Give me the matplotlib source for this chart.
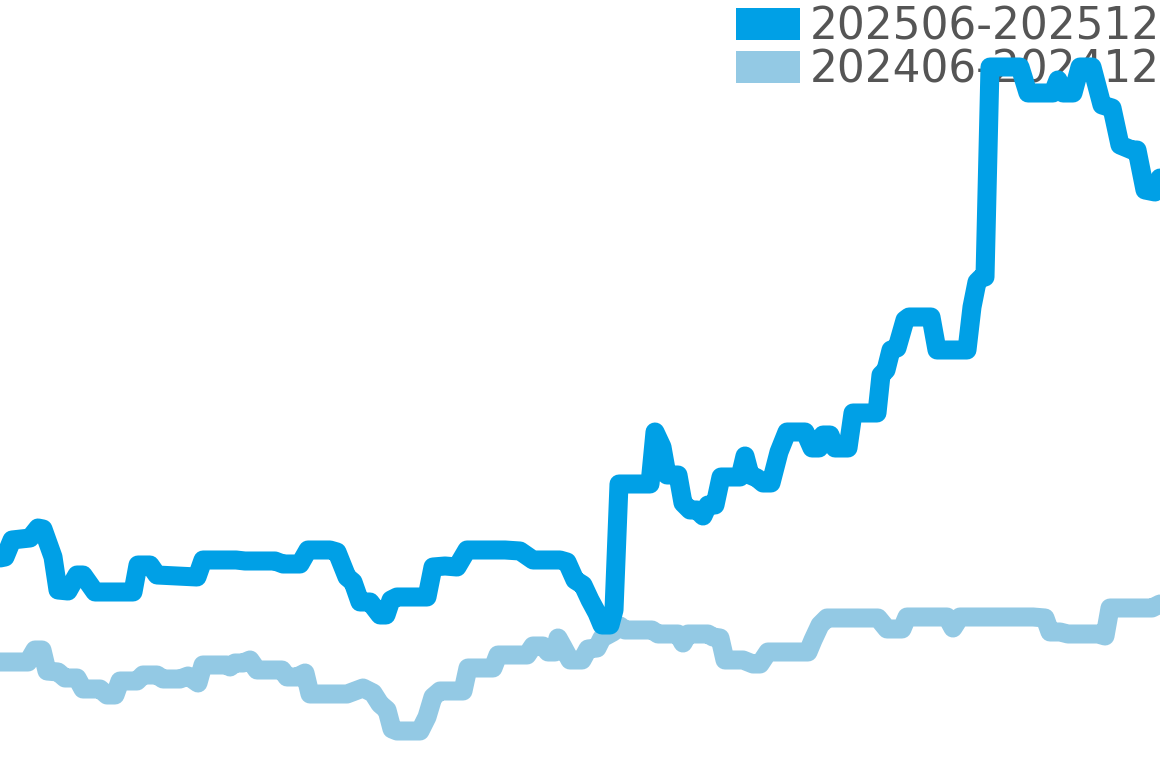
import matplotlib
matplotlib.use("Agg")
import matplotlib.pyplot as plt
from matplotlib.patches import Patch

labels = ["202506-202512", "202406-202412"]
colors = ["#00A0E6", "#93C9E4"]

t_cur = [0, 0.5, 1.2, 3.0, 3.8, 4.3, 5.3, 5.8, 6.8, 7.7, 8.3, 9.5, 13.3, 13.8, 15.0, 15.7, 19.7, 20.3,
         23.6, 24.5, 27.5, 28.3, 30.0, 30.8, 33.0, 33.7, 34.7, 35.3, 36.0, 37.0, 38.0, 38.6, 39.1, 39.7,
         42.7, 43.3, 44.5, 45.7, 46.7, 50.5, 52.0, 53.3, 56.0, 56.7, 57.5, 58.3, 59.0, 59.7, 60.2, 61.0,
         61.4, 61.9, 65.0, 65.5, 66.2, 66.7, 67.8, 68.3, 69.0, 69.7, 70.3, 70.8, 71.5, 72.1, 74.0, 74.5,
         75.0, 75.7, 76.3, 77.1, 77.9, 78.7, 80.5, 81.2, 81.9, 82.3, 83.0, 83.5, 84.8, 85.3, 87.7, 88.1,
         88.6, 89.1, 89.7, 90.5, 90.9, 93.1, 93.7, 96.7, 97.2, 97.7, 98.1, 98.5, 99.0, 102.0, 102.8,
         105.3, 105.8, 106.3, 107.3, 108.0, 109.2, 110.2, 111.2, 112.0, 113.2, 113.7, 114.5, 115.5, 116.0]
v_cur = [24.2, 24.3, 26.0, 26.2, 27.2, 27.1, 24.3, 21.0, 20.9, 22.5, 22.5, 20.8, 20.8, 23.5, 23.5, 22.5,
         22.3, 24.0, 24.0, 23.9, 23.9, 23.6, 23.6, 25.0, 25.0, 24.8, 22.3, 21.8, 19.8, 19.8, 18.5, 18.5,
         20.0, 20.3, 20.3, 23.3, 23.4, 23.3, 25.0, 25.0, 24.9, 24.0, 24.0, 23.8, 22.0, 21.5, 20.0, 18.7,
         17.5, 17.5, 19.0, 31.6, 31.6, 36.8, 35.3, 32.5, 32.5, 29.7, 29.0, 29.0, 28.4, 29.5, 29.5, 32.3,
         32.3, 34.4, 32.5, 32.2, 31.7, 31.7, 34.8, 36.8, 36.8, 35.2, 35.2, 36.5, 36.5, 35.2, 35.2, 38.7,
         38.7, 42.5, 43.0, 45.0, 45.2, 48.0, 48.3, 48.3, 45.0, 45.0, 49.3, 51.8, 52.2, 52.3, 73.3, 73.3,
         70.7, 70.7, 72.0, 70.7, 70.7, 73.3, 73.3, 69.5, 69.2, 65.5, 65.0, 65.0, 61.0, 60.8, 62.2]

t_prev = [0, 2.8, 3.5, 4.2, 4.7, 5.8, 6.5, 7.7, 8.3, 10.0, 10.7, 11.5, 12.0, 13.7, 14.3, 15.7, 16.3, 18.0,
          18.8, 19.8, 20.3, 22.7, 23.0, 23.5, 24.3, 25.0, 25.7, 28.2, 28.7, 29.7, 30.5, 31.0, 34.7, 36.3,
          37.3, 38.0, 38.7, 39.2, 39.7, 42.0, 42.7, 43.3, 44.0, 46.3, 46.8, 49.3, 49.8, 52.7, 53.3, 54.3,
          54.8, 55.5, 55.8, 56.3, 57.0, 58.2, 58.8, 59.7, 60.2, 61.3, 62.0, 62.5, 65.2, 65.8, 67.8, 68.3,
          68.8, 70.8, 71.3, 72.0, 72.5, 74.3, 75.3, 76.0, 76.8, 80.8, 81.3, 82.0, 82.7, 87.8, 88.7, 90.2,
          90.7, 94.7, 95.3, 96.0, 103.3, 104.5, 105.0, 106.0, 106.8, 109.8, 110.5, 111.0, 115.2, 116.0]
v_prev = [13.8, 13.8, 15.0, 15.0, 12.9, 12.8, 12.2, 12.2, 11.1, 11.1, 10.5, 10.5, 11.9, 11.9, 12.5, 12.5,
          12.1, 12.1, 12.4, 11.7, 13.5, 13.5, 13.3, 13.7, 13.7, 14.0, 13.0, 13.0, 12.3, 12.3, 12.7, 10.6,
          10.6, 11.2, 10.7, 9.6, 9.0, 7.1, 6.9, 6.9, 8.3, 10.3, 10.9, 10.9, 13.2, 13.2, 14.5, 14.5, 15.4,
          15.4, 14.8, 14.8, 16.2, 15.3, 14.0, 14.0, 15.1, 15.2, 16.2, 16.8, 17.4, 17.0, 17.0, 16.6, 16.6,
          15.7, 16.6, 16.6, 16.3, 16.2, 14.0, 14.0, 13.6, 13.6, 14.8, 14.8, 16.0, 17.5, 18.2, 18.2, 17.1,
          17.1, 18.3, 18.3, 17.2, 18.3, 18.3, 18.2, 16.8, 16.8, 16.6, 16.6, 16.4, 19.2, 19.2, 19.6]

fig = plt.figure(figsize=(11.6, 7.68), dpi=100)
ax = fig.add_axes([0, 0, 1, 1])
ax.set_axis_off()

line_kw = dict(linewidth=13.7, solid_joinstyle="round", solid_capstyle="round")
ax.plot(t_prev, v_prev, color=colors[1], zorder=3, **line_kw)
ax.plot(t_cur, v_cur, color=colors[0], zorder=4, **line_kw)

ax.set_xlim(0, 116)
ax.set_ylim(3.2, 80.0)

handles = [Patch(facecolor=c, edgecolor="none") for c in colors]
leg = ax.legend(handles, labels, loc="upper right", bbox_to_anchor=(1.0, 0.993),
                frameon=False, fontsize=31.5, labelcolor="#555555",
                handlelength=1.46, handleheight=0.73, handletextpad=0.22,
                labelspacing=0.0, borderpad=0.0, borderaxespad=0.0)
leg.set_zorder(1)

fig.savefig("out.png", dpi=100)
